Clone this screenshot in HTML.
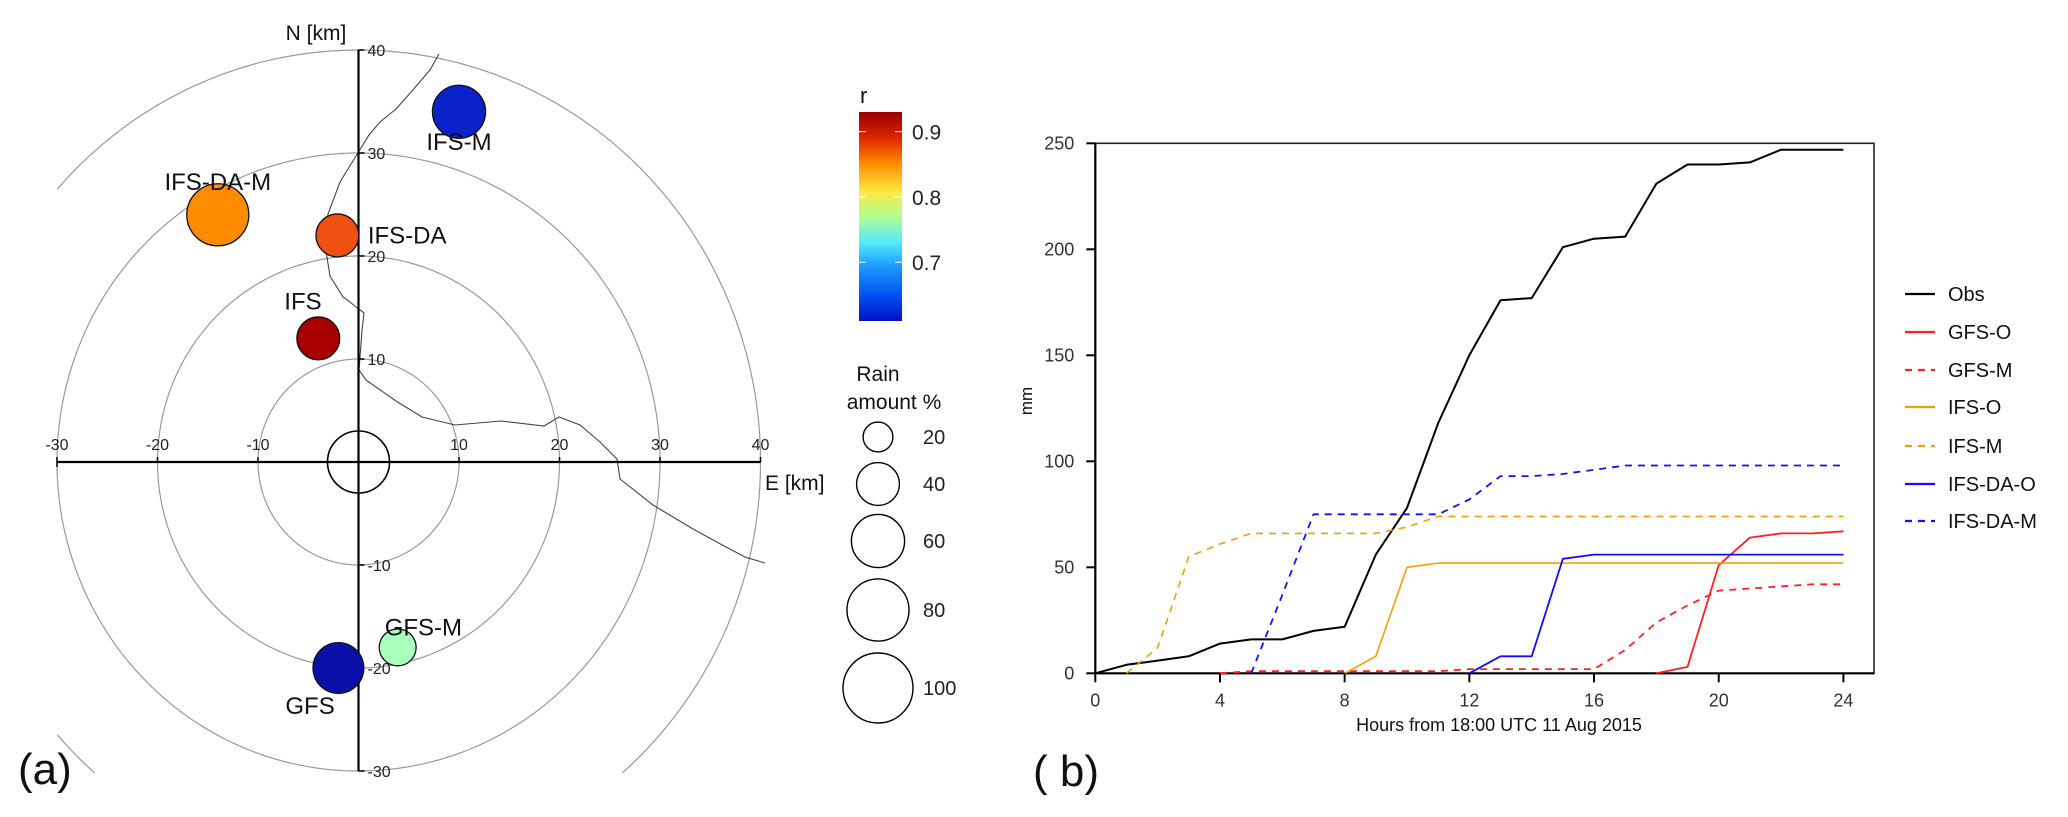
<!DOCTYPE html>
<html><head><meta charset="utf-8">
<style>
html,body{margin:0;padding:0;background:#fff;width:2068px;height:817px;overflow:hidden;}
svg{display:block;font-family:"Liberation Sans",sans-serif;}
</style></head>
<body>
<svg id="fig" width="2068" height="817" viewBox="0 0 2068 817" xmlns="http://www.w3.org/2000/svg">
<defs>
<linearGradient id="jet" x1="0" y1="1" x2="0" y2="0">
<stop offset="0" stop-color="#0010c8"/>
<stop offset="0.12" stop-color="#0050f0"/>
<stop offset="0.27" stop-color="#20a0ff"/>
<stop offset="0.37" stop-color="#50e8ff"/>
<stop offset="0.5" stop-color="#b0ff90"/>
<stop offset="0.62" stop-color="#ffe840"/>
<stop offset="0.75" stop-color="#ff9000"/>
<stop offset="0.87" stop-color="#e02800"/>
<stop offset="1" stop-color="#980000"/>
</linearGradient>
</defs>
<g id="panelA"></g>
<g id="panelB"></g>
</svg>
<script>
// ---------- Panel (a) data ----------
const modelNames = ["IFS-M","IFS-DA-M","IFS-DA","IFS","GFS-M","GFS"];
const modelEast = [10,-14,-2.1,-4,3.9,-2];
const modelNorth = [34,24,22,12,-18,-20];
const modelRain = [60,80,40,40,30,55];
const modelColors = ["#0a22c8","#ff8c00","#f05010","#a80000","#aaffbb","#0a10a8"];
const ringRadii = [10,20,30,40];
const eastTicks = [-30,-20,-10,10,20,30,40];
const northTicks = [40,30,20,10,-10,-20,-30];
const legendRain = [20,40,60,80,100];
const colorTicks = [0.9,0.8,0.7];

// ---------- Panel (b) data ----------
const hours = [0,1,2,3,4,5,6,7,8,9,10,11,12,13,14,15,16,17,18,19,20,21,22,23,24];
const obs = [0,4,6,8,14,16,16,20,22,56,78,118,150,176,177,201,205,206,231,240,240,241,247,247,247];
const gfsO = [null,null,null,null,null,null,null,null,null,null,null,null,null,null,null,null,null,null,0,3,51,64,66,66,67];
const gfsM = [null,null,null,null,0,1,1,1,1,1,1,1,2,2,2,2,2,11,24,32,39,40,41,42,42];
const ifsO = [null,null,null,null,null,null,null,null,0,8,50,52,52,52,52,52,52,52,52,52,52,52,52,52,52];
const ifsM = [null,0,12,55,61,66,66,66,66,66,69,74,74,74,74,74,74,74,74,74,74,74,74,74,74];
const ifsDaO = [null,null,null,null,null,null,null,null,null,null,null,null,0,8,8,54,56,56,56,56,56,56,56,56,56];
const ifsDaM = [null,null,null,null,null,0,37,75,75,75,75,75,82,93,93,94,96,98,98,98,98,98,98,98,98];
const seriesNames = ["Obs","GFS-O","GFS-M","IFS-O","IFS-M","IFS-DA-O","IFS-DA-M"];
const xTicks = [0,4,8,12,16,20,24];
const yTicks = [0,50,100,150,200,250];

const NS="http://www.w3.org/2000/svg";
function mk(tag, attrs, parent, text){
  const e=document.createElementNS(NS,tag);
  for(const k in attrs) e.setAttribute(k,attrs[k]);
  if(text!==undefined) e.textContent=text;
  parent.appendChild(e); return e;
}

// ===== Panel A =====
const A=document.getElementById('panelA');
const ox=358.5, oy=462, kx=10.05, ky=10.3;
const px=e=>ox+e*kx, py=n=>oy-n*ky;
const clipX0=57, clipX1=769, clipY0=48, clipY1=774;
const rings=mk('g',{},A);


ringRadii.forEach(r=>{
  let d='', pen=false;
  for(let k=0;k<=720;k++){
    const a=k/720*2*Math.PI;
    const x=ox+r*kx*Math.cos(a), y=oy-r*ky*Math.sin(a);
    const inside=x>=clipX0&&x<=clipX1&&y>=clipY0&&y<=clipY1;
    if(inside){ d+=(pen?'L':'M')+x.toFixed(1)+','+y.toFixed(1); pen=true; }
    else pen=false;
  }
  const c=mk('path',{d:d,fill:'none',stroke:'#999','stroke-width':1.2},rings);
  
  
});
const coast=mk('polyline',{points:"439,54 430,70 412,91 396,109 380,122 369,135 356,156 340,182 328,214 325,245 330,276 343,297 350,302 356,307 364,313 362,330 361,344 359,370 366,380 396,401 422,417 455,425 501,421 544,426 559,417 580,425 600,442 617,459 620,479 653,505 693,529 726,547 745,557 765,563",fill:'none',stroke:'#444','stroke-width':1.1},A);


const xAx=mk('line',{x1:px(-30),y1:oy,x2:px(40),y2:oy,stroke:'#000','stroke-width':2.2},A);


const yAx=mk('line',{x1:ox,y1:py(40),x2:ox,y2:py(-30),stroke:'#000','stroke-width':2.2},A);


eastTicks.forEach(t=>{
  mk('line',{x1:px(t),y1:oy,x2:px(t),y2:oy-5,stroke:'#000','stroke-width':1.5},A);
  const l=mk('text',{x:px(t),y:oy-12,'font-size':16,'text-anchor':'middle',fill:'#222'},A,String(t));
  
  
});
mk('line',{x1:px(-30),y1:oy,x2:px(-30),y2:oy+5,stroke:'#000','stroke-width':1.5},A);
northTicks.forEach(t=>{
  mk('line',{x1:ox,y1:py(t),x2:ox+6,y2:py(t),stroke:'#000','stroke-width':1.5},A);
  const l=mk('text',{x:ox+9,y:py(t)+6,'font-size':16,fill:'#222'},A,String(t));
  
  
});
const nl=mk('text',{x:316,y:40,'font-size':21,'text-anchor':'middle',fill:'#111'},A,'N [km]');


const el=mk('text',{x:765,y:490,'font-size':21,fill:'#111'},A,'E [km]');


const cc=mk('circle',{cx:ox,cy:oy,r:31,fill:'none',stroke:'#000','stroke-width':1.6},A);


const rainR=p=>3.2*Math.sqrt(p)+0.3*Math.sqrt(p)*Math.sqrt(p)/10;
const labelPos=[[0,30,'middle'],[0,-33,'middle'],[24,'side','start'],[-34,-37,'start'],[-13,-20,'start'],[-53,38,'start']];
modelNames.forEach((n,i)=>{
  const cx=px(modelEast[i]), cy=py(modelNorth[i]), r=rainR(modelRain[i]);
  const c=mk('circle',{cx:cx,cy:cy,r:r,fill:modelColors[i],stroke:'#111','stroke-width':1.3},A);
  
  
  const lp=labelPos[i];
  let tx,ty;
  if(lp[1]==='side'){tx=cx+r+9;ty=cy+8;}
  else{tx=cx+lp[0];ty=cy+lp[1]+8;}
  const t=mk('text',{x:tx,y:ty,'font-size':24,'text-anchor':lp[2],fill:'#111'},A,n);
  
  
});
const cbTop=112, cbBot=321, vMin=0.61, vMax=0.93;
const cby=v=>cbBot-(v-vMin)/(vMax-vMin)*(cbBot-cbTop);
const cb=mk('rect',{x:859,y:cbTop,width:43,height:cbBot-cbTop,fill:'url(#jet)'},A);


colorTicks.forEach(v=>{
  mk('line',{x1:859,y1:cby(v),x2:866,y2:cby(v),stroke:'#fff','stroke-width':1},A);
  mk('line',{x1:895,y1:cby(v),x2:902,y2:cby(v),stroke:'#fff','stroke-width':1},A);
  const t=mk('text',{x:912,y:cby(v)+8,'font-size':21,fill:'#222'},A,v.toFixed(1));
  
  
});
const rt=mk('text',{x:860,y:103,'font-size':22,fill:'#111'},A,'r');


const lt1=mk('text',{x:878,y:381,'font-size':21,'text-anchor':'middle',fill:'#111'},A,'Rain');


const lt2=mk('text',{x:894,y:409,'font-size':21,'text-anchor':'middle',fill:'#111'},A,'amount %');


const legY=[437,484,541,610,688];
legendRain.forEach((p,i)=>{
  const r=rainR(p);
  const c=mk('circle',{cx:878,cy:legY[i],r:r,fill:'none',stroke:'#000','stroke-width':1.4},A);
  
  
  const t=mk('text',{x:923,y:legY[i]+7,'font-size':20,fill:'#222'},A,String(p));
  
  
});
const pa=mk('text',{x:18,y:784,'font-size':44,fill:'#111'},A,'(a)');



// ===== Panel B =====
const B=document.getElementById('panelB');
const L=1095.3, R=1874, T=143.3, Bt=673.3, x24=1843.4;
const sx=h=>L+h*(x24-L)/24, sy=v=>Bt-v*(Bt-T)/250;
const frame=mk('rect',{x:L,y:T,width:R-L,height:Bt-T,fill:'none',stroke:'#222','stroke-width':1.6},B);


mk('line',{x1:L,y1:T,x2:L,y2:Bt,stroke:'#000','stroke-width':2.2},B);
mk('line',{x1:L,y1:Bt,x2:R,y2:Bt,stroke:'#000','stroke-width':2.2},B);
yTicks.forEach(v=>{
  mk('line',{x1:L-9,y1:sy(v),x2:L,y2:sy(v),stroke:'#000','stroke-width':2},B);
  const t=mk('text',{x:L-21,y:sy(v)+6,'font-size':18,'text-anchor':'end',fill:'#333'},B,String(v));
  
  
});
xTicks.forEach(h=>{
  mk('line',{x1:sx(h),y1:Bt,x2:sx(h),y2:Bt+9,stroke:'#000','stroke-width':2},B);
  const t=mk('text',{x:sx(h),y:Bt+33,'font-size':18,'text-anchor':'middle',fill:'#333'},B,String(h));
  
  
});
const xt=mk('text',{x:1499,y:731,'font-size':18,'text-anchor':'middle',fill:'#111'},B,'Hours from 18:00 UTC 11 Aug 2015');


const yt=mk('text',{x:1032,y:401,'font-size':17,'text-anchor':'middle',fill:'#111',transform:'rotate(-90 1032 401)'},B,'mm');


const allSeries=[obs,gfsO,gfsM,ifsO,ifsM,ifsDaO,ifsDaM];
const sColors=["#000","#ff2020","#ff2020","#f0a000","#f0a000","#1010ff","#1010ff"];
const sDash=[null,null,"7,6",null,"7,6",null,"7,6"];
const sWidth=[2,1.8,1.8,1.6,1.6,1.8,1.8];
allSeries.forEach((s,i)=>{
  const pts=[];
  s.forEach((v,j)=>{ if(v!==null) pts.push(sx(hours[j]).toFixed(1)+','+sy(v).toFixed(1)); });
  const a={points:pts.join(' '),fill:'none',stroke:sColors[i],'stroke-width':sWidth[i],'stroke-linejoin':'round'};
  if(sDash[i]) a['stroke-dasharray']=sDash[i];
  const p=mk('polyline',a,B);
  
  
});
const legYs=[294,332,370,407,446,484,521];
seriesNames.forEach((n,i)=>{
  const a={x1:1905,y1:legYs[i],x2:1935,y2:legYs[i],stroke:sColors[i],'stroke-width':2.2};
  if(sDash[i]) a['stroke-dasharray']="7,6";
  const l=mk('line',a,B);
  
  
  const t=mk('text',{x:1948,y:legYs[i]+7,'font-size':20,fill:'#111'},B,n);
  
  
});
const pb=mk('text',{x:1033,y:786,'font-size':44,fill:'#111'},B,'( b)');


</script>
</body></html>
